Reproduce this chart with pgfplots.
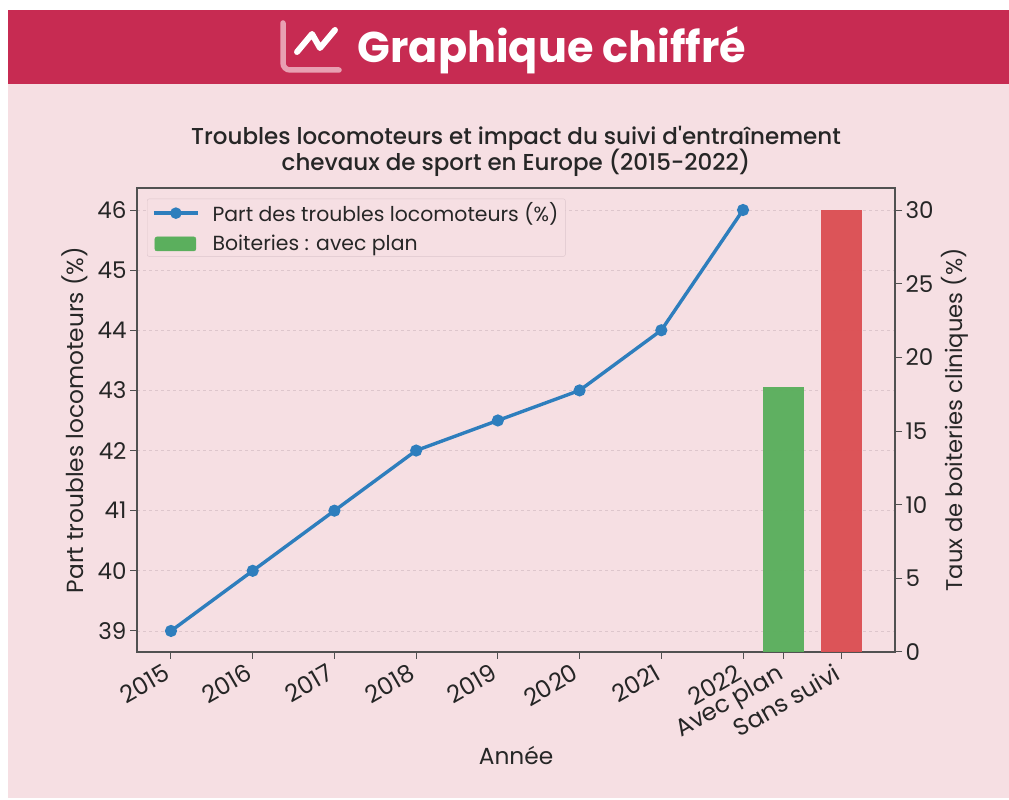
\documentclass[border=0pt]{standalone}
\usepackage{fontspec}
\usepackage{pgfplots}
\pgfplotsset{compat=1.18}
\setmainfont{Poppins}
\newfontfamily\med{Poppins Medium}
\definecolor{hdr}{HTML}{C72B52}
\definecolor{bgp}{HTML}{F6DFE3}
\definecolor{ink}{HTML}{262626}
\definecolor{lineblue}{HTML}{2E7EBD}
\definecolor{barg}{HTML}{5BAF5D}
\definecolor{barr}{HTML}{DC5054}
\definecolor{gridc}{HTML}{DDC6CC}
\definecolor{iconp}{HTML}{E8A0B2}
\pgfplotsset{
  common/.style={
    at={(137pt,148pt)},anchor=south west,scale only axis,width=758pt,height=464pt,
    xmin=-0.416,xmax=8.86,
    axis line style={color=ink!80,line width=1.1pt},
    tick style={color=ink!80,line width=1pt},
    tick align=outside,
    major tick length=7pt,
    /pgf/number format/assume math mode=true,
  }
}
\begin{document}
\begin{tikzpicture}[x=1pt,y=1pt]
\path[fill=white] (0,0) rectangle (1009,800);
\path[fill=bgp] (8,2) rectangle (1009,716);
\path[fill=hdr] (8,716) rectangle (1009,790);
% header icon
\draw[line width=5.5pt,color=iconp,line cap=round,rounded corners=7pt] (283,777) -- (283,730) -- (339,730);
\draw[line width=6pt,color=white,line cap=round,line join=round] (297,748) -- (312,766) -- (320,752) -- (335,770);
\node[anchor=center,text=white] at (552,750) {\fontsize{43}{48}\selectfont\bfseries Graphique chiffré};
\node[align=center,text=ink] at (516,648.5) {\med\fontsize{23}{25}\selectfont Troubles locomoteurs et impact du suivi d'entraînement\\[-2pt]\med\fontsize{23}{25}\selectfont chevaux de sport en Europe (2015-2022)};
% left axis, ticks, grid
\begin{axis}[common,
  ymin=38.65,ymax=46.366,
  xtick pos=bottom,ytick pos=left,
  xtick={0,1,2,3,4,5,6,7,7.5,8.2},
  xticklabels={2015,2016,2017,2018,2019,2020,2021,2022,Avec plan,Sans suivi},
  x tick label style={font=\fontsize{24}{26}\selectfont,text=ink,rotate=30,anchor=north east,inner sep=2pt,xshift=-7pt,yshift=3pt},
  ytick={39,40,41,42,43,44,45,46},
  y tick label style={font=\fontsize{23}{26}\selectfont,text=ink},
  ymajorgrids,
  grid style={dashed,color=gridc,line width=.8pt},
  xlabel={Année},ylabel={Part troubles locomoteurs (\%)},
  xlabel style={font=\fontsize{23.3}{26}\selectfont,text=ink,at={(axis description cs:0.5,-0.224)},anchor=center},
  ylabel style={font=\fontsize{23.3}{26}\selectfont,text=ink,at={(axis description cs:-0.082,0.5)},anchor=center},
]
\end{axis}
% bars + right axis
\begin{axis}[common,
  ymin=0,ymax=31.5,
  axis y line*=right,axis x line=none,
  ytick={0,5,10,15,20,25,30},
  y tick label style={font=\fontsize{23}{26}\selectfont,text=ink},
  ylabel={Taux de boiteries cliniques (\%)},
  ylabel style={font=\fontsize{22.7}{26}\selectfont,text=ink,at={(axis description cs:1.079,0.5)},anchor=center},
]
\addplot[ybar,bar width=0.5,fill=barg,draw=none,fill opacity=.97] coordinates {(7.5,18)};
\addplot[ybar,bar width=0.5,fill=barr,draw=none,fill opacity=.97] coordinates {(8.2,30)};
\end{axis}
% line + legend
\begin{axis}[common,
  ymin=38.65,ymax=46.366,
  hide axis,
  legend style={at={(0.0132,0.977)},anchor=north west,fill=bgp,draw=gridc,rounded corners=2pt,
    font=\fontsize{20.4}{24}\selectfont,text=ink,inner xsep=5pt,inner ysep=2pt,
    row sep=8pt,
    /tikz/every odd column/.style={column sep=11pt}},
  legend cell align=left,
]
\addplot[color=lineblue,line width=3.4pt,mark=*,mark size=4.3pt,mark options={fill=lineblue,draw=none},
  legend image code/.code={
    \draw[color=lineblue,line width=3.4pt] (0pt,0pt) -- (44pt,0pt);
    \fill[lineblue] (22pt,0pt) circle (4pt);
  }] coordinates {
(0,39)(1,40)(2,41)(3,42)(4,42.5)(5,43)(6,44)(7,46)};
\addlegendentry{Part des troubles locomoteurs (\%)}
\addlegendimage{legend image code/.code={\fill[barg] (1pt,-7pt) rectangle (42pt,7pt);}}
\addlegendentry{Boiteries : avec plan}
\end{axis}
\end{tikzpicture}
\end{document}
